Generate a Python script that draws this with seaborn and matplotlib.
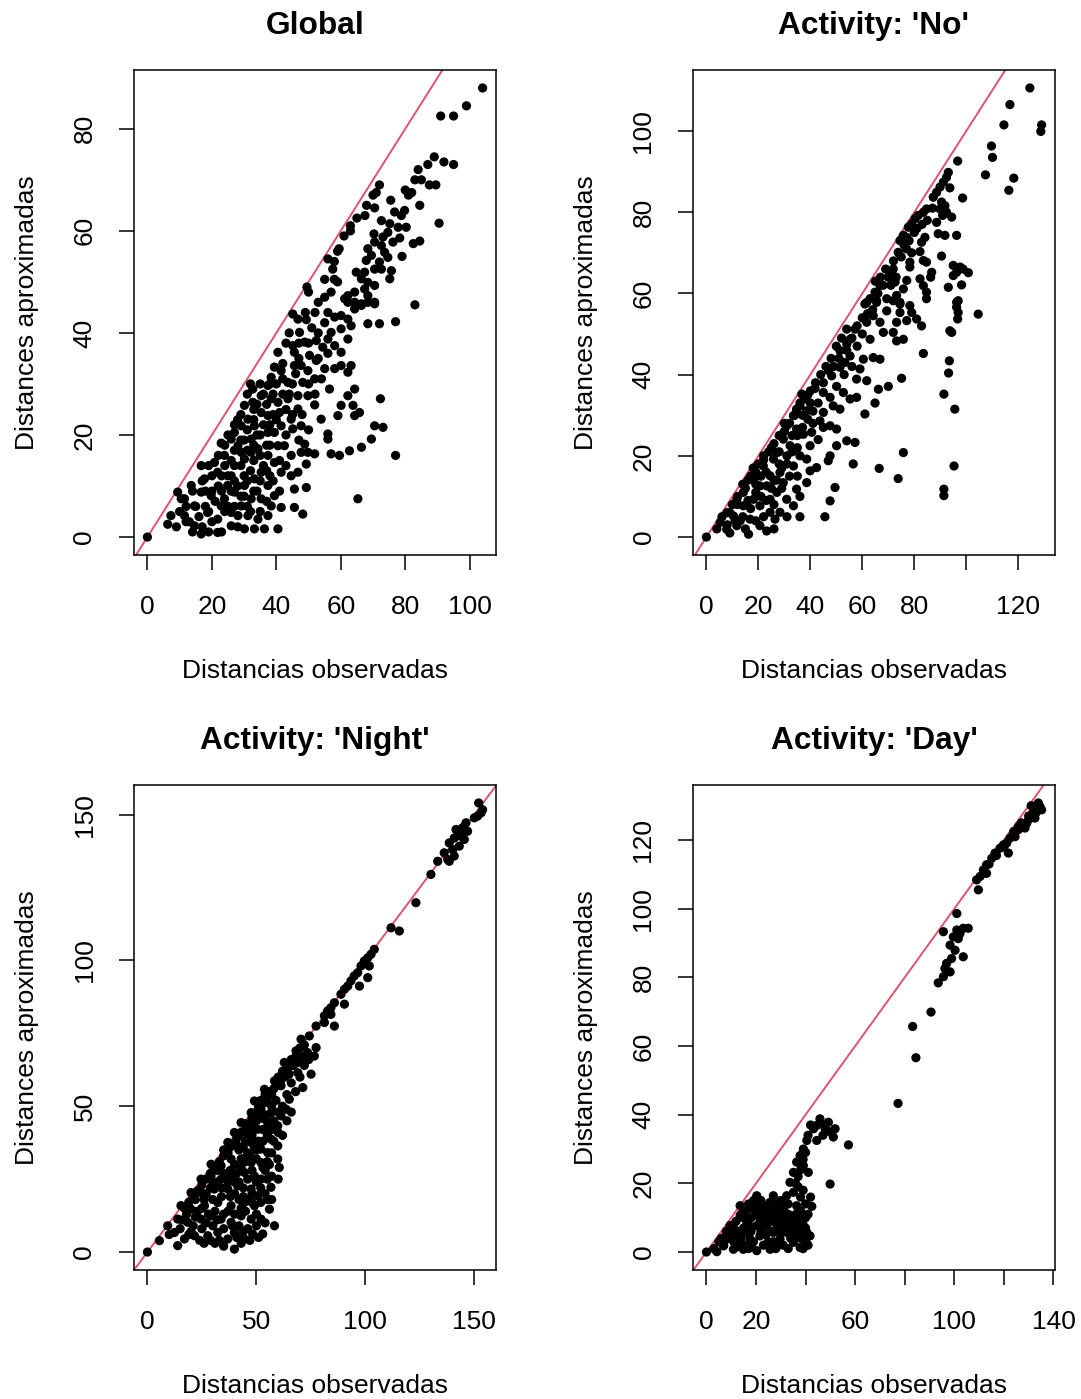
import numpy as np
import pandas as pd
import matplotlib
matplotlib.use("Agg")
import matplotlib.pyplot as plt
import seaborn as sns

# ---------------- data (observed, approximated) ----------------
global_pts = [
    (0, 0),
    (104, 88), (99, 84.5), (91, 82.5), (95, 82.5), (89, 74.5), (92, 73.5), (95, 73), (87, 73), (84, 72),
    (83, 70), (85, 70), (87.5, 69), (89.5, 69), (80, 68), (82, 67.5), (81, 67), (72, 69), (71, 67.5), (70, 67),
    (75.5, 66), (84.5, 65), (68, 65), (70.5, 64.5), (67.5, 63), (65, 62.5), (63, 61), (63, 60), (61, 59),
    (59.5, 56.5), (59, 56), (56, 54.5), (58, 54), (57.5, 52.5), (55, 50.5), (58, 50.5), (49.5, 49), (50, 48),
    (83, 45.5), (90.5, 61.5), (82.5, 57.5), (84.5, 58), (79, 55),
    (72.6, 62), (75.2, 61.4), (76.7, 63.7), (78.8, 63), (79.8, 64), (77.8, 60.7), (80.3, 60.7), (74.6, 59.7),
    (73.1, 58.8), (70.3, 59.4), (78.3, 58.6), (76.2, 57.8), (72.6, 57.1), (70.5, 57.8), (68.4, 56.5),
    (73.6, 55.8), (74.6, 54.8), (72, 53.9), (69.5, 55.2), (67.9, 54.2), (70.5, 52.5), (72.6, 52.5),
    (75.7, 52.2), (75.2, 50.6), (67.4, 51.9), (64.8, 51.9), (66.4, 50.6), (68.4, 49.9), (70.5, 49.3),
    (67.4, 48.6), (64.3, 48), (62.2, 47.3), (61.2, 46.7), (68.4, 47.3), (70.5, 46), (64.3, 46), (66.4, 45.4),
    (62.2, 46), (66.4, 45.7), (68.4, 46), (70.5, 45.7), (64.3, 44.7), (60.1, 43.4), (58.1, 43.1), (62.2, 42.7),
    (63.2, 41.4), (60.1, 40.8), (57, 40.1), (56, 38.8), (62.2, 38.8), (58.1, 37.5), (60.1, 36.2), (63.2, 33.6),
    (60.1, 33.6), (58.1, 33), (62.2, 32.3), (68.4, 41.8), (72, 41.8), (77, 42.2),
    (45.1, 43.7), (46.7, 42.7), (49.3, 42.6), (47.2, 40.1), (48.8, 38.2), (45.1, 37.5), (45.6, 36.2),
    (52.4, 38.5), (54.4, 37.2), (50.3, 35.6), (52.4, 34.6), (47.7, 33.6), (45.6, 33.6), (49.8, 32.6),
    (51.9, 31), (48.2, 30.3), (43.6, 30.3), (40.5, 36.2), (39.4, 33.3), (41.5, 32.6), (38.4, 31.3),
    (37.4, 29.7), (32.7, 29), (35.3, 27.7), (38.4, 27.1), (40.5, 26.4), (43.6, 27.1), (46.7, 27.7),
    (49.8, 27.7), (46.7, 25.1), (51.9, 25.9), (53.9, 23.1), (56.5, 29), (60.1, 25.8), (59.1, 23.8),
    (63.8, 25.8), (64.3, 23.8), (65.8, 24.4), (62.2, 27.7), (64.3, 29), (72.3, 27.1), (70.5, 21.8),
    (73.1, 21.5), (69.5, 19.2), (66.4, 17.6), (62.7, 16.9), (59.6, 16), (57, 16.3), (56, 20.2), (56, 19.2),
    (51.9, 16.3), (49.8, 16.6), (49.3, 14.3), (48.8, 18.2), (44.6, 16), (42.5, 17.9), (40.5, 17.9),
    (39.4, 20.5), (37.4, 20.5), (41.5, 21.8), (45.1, 21.2), (47.7, 21.8), (44.6, 23.1), (41, 24.4),
    (37.4, 23.8), (35.3, 24.4), (32.7, 26.4), (30.1, 25.8), (31.2, 23.1), (29.1, 21.8), (33.2, 21.8),
    (27, 20.5), (26, 19.2), (22.9, 18.4), (28.1, 17.9), (32.2, 19.2), (34.3, 17.3), (37.4, 16), (39.4, 14.6),
    (41.5, 12.7), (44.6, 12), (45.6, 9.4), (49.3, 9.7), (46.7, 12.7), (47.7, 16.6), (77, 16), (65.3, 7.5),
    (45.6, 5.8), (48.2, 4.5), (41.5, 5.8), (40.5, 1.6), (36.3, 1.6), (33.2, 1.6), (30.1, 1.6), (26, 2.2),
    (21.8, 0.9), (16.7, 0.6), (6.3, 2.5), (7.3, 4.2), (11.5, 4.2), (10.5, 7.5), (13.6, 10.1), (17.7, 11.4),
    (20.8, 14.6), (23.9, 16), (21.8, 12.7), (24.9, 12), (27, 14), (30.1, 15.3), (32.2, 16.6), (29.1, 16.6),
    (24.9, 10.1), (27, 8.8), (30.1, 10.1), (33.2, 11.4), (35.3, 12.7), (37.4, 10.1), (39.4, 8.1), (35.3, 7.5),
    (32.2, 7.5), (29.1, 6.1), (26, 4.8), (22.9, 6.1), (19.8, 8.1), (16.7, 8.8), (14.6, 6.1), (18.7, 4.8),
    (21.8, 3.5), (28.1, 4.2), (31.2, 4.2), (34.3, 3.5), (37.4, 4.2), (38.4, 6.1), (14.6, 2.2), (11.5, 7.5),
    (9.4, 8.8), (23.9, 7.5), (16.7, 14),
    (26, 12), (28, 10), (30, 8), (32, 13), (34, 9), (36, 14), (38, 12), (24, 14), (22, 10), (20, 12), (18, 6),
    (16, 4), (12, 6), (14, 9), (20, 3), (24, 5), (28, 2), (32, 5), (35, 5), (30, 12), (33, 15), (27, 17),
    (30, 19), (34, 20), (36, 22), (38, 18), (31, 28), (33, 25), (35, 30), (37, 26), (39, 28), (40, 30),
    (42, 34), (43, 38), (44, 40), (38, 22), (40, 23), (43, 25), (45, 30), (47, 35), (50, 38), (49, 44),
    (52, 44), (55, 47), (57, 48), (59, 50), (53, 40), (55, 42), (50, 30), (53, 35), (55, 33), (56, 36),
    (42, 28), (25, 20), (28, 23), (22, 16), (19, 14), (17, 11), (26, 9), (29, 14), (31, 11),
    (13, 3), (15, 6), (17, 2), (19, 5), (21, 7), (23, 9), (25, 6), (27, 11), (29, 8), (31, 6), (33, 9),
    (35, 11), (37, 7), (39, 11), (41, 9), (43, 14), (41, 15), (37, 13), (35, 16), (33, 18), (31, 17),
    (29, 19), (27, 22), (29, 24), (31, 21), (33, 23), (35, 20), (37, 18), (39, 24), (36, 28), (38, 30),
    (34, 26), (32, 30), (24, 18), (26, 15), (23, 12), (20, 9), (18, 9), (12, 3), (10, 5), (9, 2), (14, 1),
    (19, 1), (23, 1), (27, 6), (43, 20), (45, 24), (47, 19), (44, 28), (46, 32), (42, 31), (48, 24),
    (50, 21), (52, 28), (54, 31), (47, 38), (51, 41), (53, 46), (56, 44),
]

no_pts = [
    (0, 0),
    (124.5, 110.6), (116.8, 106.5), (114.5, 101.5), (129, 101.5), (128.7, 99.9), (109.7, 96.3), (110.1, 93.5),
    (107.4, 89.2), (118.3, 88.4), (116.4, 85.4), (96.7, 92.6), (93.1, 89.8), (92.4, 88.6), (91.2, 87.4),
    (89.9, 86.2), (88.6, 84.9), (87.3, 83.7), (93.7, 86), (98.6, 83.5), (90.5, 82.5), (91.8, 81.6),
    (89.9, 80.8), (92.4, 80), (90.9, 79.2), (94.4, 78.8), (88.6, 77.5), (84.7, 80.8), (83.5, 80), (81.5, 79.2),
    (80.3, 78.4), (79, 77.1), (77.7, 76.3), (89.2, 74.7), (91.8, 74.3), (96.3, 74.3), (75.8, 74.3), (74.5, 73),
    (77.1, 73.8), (84.1, 73.8), (82.8, 72.6), (73.8, 70.1), (82.2, 70.3), (90.5, 69.2), (78.3, 67.7),
    (78.3, 66.5), (83.5, 68.1), (84.7, 67.7), (71.9, 66), (71.3, 64.4), (72.6, 62.8), (77.1, 63.2),
    (75.8, 61.1), (82.2, 63.6), (83.5, 61.9), (84.7, 60.3), (86.7, 65.2), (86.3, 64), (95, 66.9), (97.6, 66.5),
    (96.3, 65.2), (98.8, 66), (100.8, 65.1), (95, 64.4), (98.2, 62.1), (93.1, 61.5), (96.9, 58.2), (96.3, 56.6),
    (66.8, 62), (64.9, 60.3), (63, 58.7), (61, 57.4), (65.5, 57.8), (69.4, 58.7), (73.2, 59.5), (74.5, 57.8),
    (78.3, 57), (84.7, 58.7),
    (61.7, 57.8), (65.5, 58.2), (71.9, 58.2), (74.5, 57.4), (69.4, 55.7), (74.5, 55.3), (79, 55.3),
    (64.2, 54.5), (61.7, 52.9), (66.8, 52.9), (73.2, 52.9), (77.1, 53.3), (80.9, 53.7), (82.8, 52),
    (68.1, 50.4), (63, 48.7), (73.2, 48.3), (75.8, 48.7), (71.9, 50.4), (96.3, 57.8), (96.9, 55.3),
    (96.7, 53.7), (104.6, 54.9), (94.4, 50.4), (93.7, 50.8), (54, 51.2), (57.2, 51.2), (55.3, 48.7),
    (54, 47.5), (51.4, 45.9), (55.3, 44.6), (53.3, 43), (51.4, 41.8), (60.4, 43.8), (59.1, 41.4),
    (64.2, 44.2), (66.8, 43.8), (57.8, 38.9), (61.7, 38.5), (66.2, 36.4), (70, 37.1), (75.1, 39.1),
    (83.5, 45.2), (93.5, 43.4), (93.2, 40.4), (91.4, 35.2), (95.6, 31.5), (48.2, 39.7), (41.8, 36.6),
    (36.7, 35.2), (45, 35.6), (47.6, 34.4), (50.1, 37.1), (52.7, 35.6), (55.3, 34), (57.8, 34.4),
    (48.8, 32.3), (51.4, 31.5), (45, 30.7), (43.7, 28.6), (47.6, 27.4), (50.1, 26.6), (34.7, 31.5),
    (36, 32.3), (38.6, 31.1), (33.5, 29.9), (61, 30.3), (64.9, 33), (54, 23.7), (57.2, 23.3), (50.1, 22.5),
    (47.6, 20), (46.9, 18.8), (42.4, 17.1), (56.5, 18), (66.5, 16.9), (73.8, 14.4), (75.8, 20.8),
    (95.3, 17.5), (91.4, 11.8), (91.4, 10.2), (49.5, 12.2), (47.6, 8.9), (45.6, 5), (36, 5),
    (30.9, 27.4), (34.7, 26.6), (37.3, 25.3), (40.5, 25.8), (39.9, 22.5), (29.6, 24.1), (32.2, 22.5),
    (27.1, 20.8), (36, 20), (38.6, 19.2), (33.5, 17.5), (39.9, 16.3), (38.6, 13.4), (34.7, 11.8),
    (30.9, 9.3), (33.5, 7.7), (28.3, 6.1), (26.4, 4.4), (23.2, 1.5), (16.2, 0.7), (7.8, 1.9), (5.3, 3.6),
    (10.4, 5.2), (14.2, 7.7), (18.1, 9.3), (20.6, 12.6), (24.5, 15.1), (28.3, 15.9), (25.8, 19.2),
    (21.9, 17.5), (18.1, 14.3), (14.2, 11), (11.7, 9.3), (20.6, 7.7), (24.5, 9.3), (27.1, 11), (29.6, 13.4),
    (23.2, 12.6), (16.8, 4.4), (20.6, 2.8), (11.7, 2.8), (24.5, 6.1),
    (12, 8), (15, 12), (17, 15), (19, 11), (22, 20), (25, 22), (28, 25), (30, 28), (31, 20), (33, 25),
    (35, 22), (37, 30), (40, 33), (42, 38), (44, 40), (46, 42), (48, 44), (50, 47), (52, 49), (13, 4),
    (9, 6), (8, 3), (22, 5), (26, 8), (29, 12), (32, 15), (35, 15), (36, 10), (26, 14), (23, 16), (19, 16),
    (16, 9), (21, 10), (31, 5), (28, 18), (41, 28), (43, 24), (45, 27), (39, 35), (53, 40), (56, 42),
    (58, 47), (60, 50), (62, 55), (64, 56), (66, 60), (68, 62), (70, 64), (72, 68), (74, 70), (76, 72),
    (78, 73), (80, 75),
    (4, 2), (6, 5), (8, 6), (10, 8), (12, 10), (14, 13), (16, 14), (18, 17), (20, 18), (22, 19), (24, 21),
    (26, 23), (28, 21), (30, 26), (32, 28), (34, 30), (36, 33), (38, 34), (40, 36), (14, 5), (17, 7),
    (19, 13), (21, 15), (23, 9), (25, 12), (27, 14), (29, 17), (31, 18), (33, 21), (35, 25), (37, 27),
    (39, 29), (41, 31), (43, 33), (45, 38), (47, 41), (49, 42), (51, 44), (54, 46), (56, 49), (58, 52),
    (60, 54), (63, 55), (65, 63), (67, 64), (69, 66), (71, 62), (73, 64), (75, 69), (77, 71), (79, 70),
    (81, 76), (83, 77), (85, 78), (87, 81), (11, 4), (9, 1), (15, 2), (19, 4), (26, 2),
]

night_pts = [
    (152, 154), (153.8, 151.7), (151.5, 149.5), (150, 148.9), (153.1, 150.6), (146.2, 147.2), (144.6, 145.5),
    (141.6, 144.9), (146.9, 144.3), (143.9, 142.6), (140.8, 142), (145.4, 141.5), (138.5, 140.3),
    (143.1, 139.2), (140.1, 138), (136.2, 136.9), (140.8, 135.8), (137.8, 134.6), (133.2, 134), (138.5, 134),
    (130.1, 129.5), (123.2, 119.8), (111.8, 111.2), (115.6, 110.1),
    (104.1, 103.8), (102.6, 102.1), (101.1, 100.9), (99.5, 99.8), (101.8, 98.1), (98, 98.1), (96.5, 95.8),
    (101.1, 94.1), (94.9, 94.7), (93.4, 93), (91.9, 91.2), (97.3, 91.2), (90.4, 90.1), (88.8, 88.4),
    (90.4, 85), (85.8, 85.5), (84.2, 83.8), (82.7, 82.7), (81.2, 81), (84.2, 81.5),
    (77.4, 77.5), (81.2, 78.7), (85.8, 77.5), (74.3, 74.1), (70.5, 73), (77.4, 70.1), (73.5, 68.4),
    (68.2, 69), (76.6, 67.2), (62.8, 65), (65.9, 63.8), (69, 61.5), (75.1, 61), (71.3, 56.4), (58.3, 58.7),
    (61.3, 57), (65.1, 52.4), (63.6, 49), (61.3, 46.7), (59.8, 43.3), (56.7, 38.7), (59.8, 36.4),
    (59.8, 31.9), (60.5, 29), (56.7, 22.2), (56, 14.7), (58.3, 9), (52.9, 6.2), (48.3, 6.2), (44.5, 4.5),
    (39.9, 1), (53.7, 55.8), (49.1, 51.8), (52.1, 49), (55.2, 51.3), (56.7, 47.8), (47.6, 47.8), (53.7, 45.6),
    (43, 44.4), (39.9, 41), (46, 41), (50.6, 42.1), (55.2, 43.3), (36.9, 37.6), (41.4, 36.4), (47.6, 37.6),
    (52.1, 35.3), (55.2, 34.1), (29.2, 30.1), (33.8, 29.6), (38.4, 31.9), (43, 31.9), (47.6, 30.7),
    (52.1, 30.7), (24.6, 25), (29.2, 26.1), (33.8, 25), (39.9, 26.1), (44.5, 27.3), (49.1, 26.1), (52.1, 25),
    (20, 20.4), (24.6, 20.4), (30.7, 21.6), (36.9, 21.6), (41.4, 22.7), (47.6, 21.6), (50.6, 19.3),
    (15.4, 15.9), (20, 14.7), (26.2, 15.9), (32.3, 17), (38.4, 15.9), (44.5, 17), (49.1, 15.9), (52.1, 11.3),
    (47.6, 11.3), (43, 12.4), (38.4, 10.2), (33.8, 11.3), (29.2, 12.4), (24.6, 11.3), (18.5, 10.2),
    (13.9, 11.3), (9.3, 9), (12.4, 6.7), (17, 4.5), (21.6, 5.6), (27.7, 5.6), (32.3, 6.7), (36.9, 4.5),
    (39.9, 6.7), (13.9, 2.2), (5.5, 3.9), (0, 0),
    (35, 35), (38, 36), (42, 40), (45, 44), (48, 46), (50, 48), (52, 52), (54, 54), (56, 55), (58, 56),
    (60, 60), (62, 62), (64, 63), (66, 66), (68, 67), (70, 70), (72, 71), (45, 38), (48, 40), (50, 35),
    (53, 38), (55, 40), (57, 42), (58, 45), (60, 48), (62, 50), (64, 54), (66, 58), (40, 30), (42, 35),
    (44, 32), (46, 34), (48, 28), (50, 32), (54, 28), (56, 30), (30, 24), (32, 28), (35, 27), (37, 24),
    (40, 24), (44, 22), (46, 25), (54, 20), (57, 26), (27, 20), (30, 18), (34, 19), (38, 19), (42, 18),
    (46, 18), (22, 18), (25, 15), (28, 13), (31, 14), (35, 13), (40, 13), (45, 14), (50, 13), (18, 13),
    (22, 12), (30, 9), (35, 8), (42, 9), (46, 8), (50, 9), (25, 8), (20, 7), (15, 8), (10, 6), (26, 3),
    (31, 3), (35, 2), (44, 7), (52, 17), (57, 18), (60, 25), (62, 40), (64, 45), (66, 48), (68, 55),
    (70, 60), (72, 64), (74, 66),
    (17, 15), (19, 17), (21, 19), (23, 21), (25, 23), (27, 25), (29, 27), (31, 29), (33, 31), (35, 33),
    (37, 34), (39, 37), (41, 39), (43, 41), (45, 42), (47, 44), (49, 46), (51, 50), (53, 51), (55, 53),
    (57, 54), (59, 57), (61, 58), (63, 60), (65, 61), (67, 64), (69, 65), (71, 67), (23, 14), (26, 18),
    (29, 22), (32, 24), (34, 22), (36, 26), (38, 28), (41, 27), (43, 29), (45, 31), (47, 33), (49, 36),
    (51, 38), (53, 42), (55, 45), (57, 50), (59, 52), (44, 36), (46, 39), (48, 43), (50, 45), (52, 46),
    (54, 47), (40, 20), (42, 24), (44, 19), (48, 20), (50, 24), (52, 22), (55, 25), (53, 29), (55, 31),
    (57, 34), (58, 38), (60, 41), (39, 9), (41, 5), (43, 3), (47, 4), (51, 5), (54, 10), (55, 18), (33, 4),
    (29, 4), (24, 4), (19, 6), (16, 11), (21, 9), (27, 10), (32, 11), (37, 14), (43, 15), (48, 17),
]

day_pts = [
    (133.9, 130.8), (135.2, 128.8), (131.9, 128.3), (134.5, 129.8), (132.5, 126.4), (129.2, 124.9),
    (127.8, 124), (125.8, 123), (128.5, 123.5), (123.8, 122), (124.5, 121), (122.4, 120.5), (121.1, 119.1),
    (119.8, 118.6), (118.4, 117.6), (121.8, 116.2), (116.4, 116.2), (115.1, 114.7), (113, 112.8),
    (111.7, 111.3), (113, 110.3), (110.4, 109.4), (109, 108.4), (109.7, 105.5), (101, 98.6), (95.6, 93.3),
    (101, 93.8), (102.3, 92.8), (103.6, 94.3), (105.6, 94.3), (99.6, 91.8), (101.6, 91.3), (98.3, 89.4),
    (100.3, 87.9), (103.6, 86), (98.9, 85.5), (96.9, 84.1), (96.2, 82.6), (98.3, 81.6), (95.6, 80.2),
    (93.5, 78.4), (90.6, 69.9), (83.2, 65.7), (84.5, 56.6), (77.3, 43.3),
    (126, 124), (130, 127), (117, 115.5), (120, 118), (124, 122.5), (127, 125), (114, 113), (112, 110.5),
    (130, 126), (133, 128), (131, 130),
    (45.8, 38.8), (49.2, 37.8), (44.5, 36.9), (43.2, 35.9), (51.9, 35.9), (47.9, 35.9), (51.2, 33.5),
    (44.5, 32.5), (57.3, 31.2), (40.5, 32.5), (39.1, 30), (37.8, 28.1), (36.4, 26.2), (39.1, 25.2),
    (41.1, 23.2), (35.1, 23.2), (33.7, 20.3), (49.9, 19.8), (35.1, 17.4), (32.4, 16.4), (29.7, 13.5),
    (42.5, 13.3), (27, 16.4), (20.3, 16.4), (13.6, 13.5), (36.4, 13.5), (37.8, 10.6), (33.7, 8.6),
    (40.5, 5.7), (41.8, 4.7), (37.8, 1.3), (35.1, 2.8), (29.7, 3.8), (25.7, 0.8), (20.3, 0.4), (14.9, 0.8),
    (10.9, 0.8), (4.2, 0.1), (0, 0), (8.2, 3.8), (12.2, 5.7), (16.3, 8.6), (21.6, 9.6), (25.7, 11.6),
    (29.7, 9.6), (32.4, 5.7), (27, 5.7), (21.6, 4.7), (17.6, 3.8), (13.6, 2.8), (6.9, 1.8), (9.5, 7.7),
    (13.6, 10.6), (19, 12.5), (23, 13.5), (25.7, 14.5), (31.1, 12.5), (35.1, 10.6), (28.4, 7.7), (24.3, 7.7),
    (20.3, 7.7), (16.3, 5.7), (10.9, 3.8),
    (5, 3), (8, 6), (11, 8), (14, 11), (17, 14), (20, 14), (23, 11), (26, 12), (28, 14), (30, 15), (33, 14),
    (37, 7), (39, 8), (40, 3), (38, 4), (31, 2), (27, 3), (23, 2), (18, 2), (12, 1.5), (24, 5), (29, 6),
    (34, 4), (36, 6), (18, 10), (15, 7), (22, 12), (31, 8), (26, 9), (38, 12), (40, 10), (40, 14), (38, 16),
    (36, 20), (37, 22), (38, 24), (39, 27), (40, 29), (41, 34), (42, 37), (48, 37), (50, 35), (47, 34),
    (3, 1), (6, 4), (7, 2), (9, 5), (10, 7), (11, 3), (12, 9), (13, 6), (14, 4), (15, 10), (16, 12), (17, 8),
    (18, 6), (19, 3), (20, 11), (21, 13), (22, 6), (23, 8), (24, 10), (25, 3), (26, 6), (27, 10), (28, 12),
    (29, 2), (30, 11), (31, 6), (32, 9), (33, 11), (34, 7), (35, 5), (36, 9), (37, 12), (38, 8), (39, 5),
    (40, 7), (41, 11), (41, 2), (39, 1), (33, 1), (28, 1), (17, 1), (22, 15), (24, 13), (19, 15), (16, 2),
    (42, 16), (39, 18), (37, 19),
]

titles = ["Global", "Activity: 'No'", "Activity: 'Night'", "Activity: 'Day'"]
xticks = [[0, 20, 40, 60, 80, 100], [0, 20, 40, 60, 80, 100, 120],
          [0, 50, 100, 150], [0, 20, 40, 60, 80, 100, 120, 140]]
xticklabels = [["0", "20", "40", "60", "80", "100"], ["0", "20", "40", "60", "80", "", "120"],
               ["0", "50", "100", "150"], ["0", "20", "", "60", "", "100", "", "140"]]
yticks = [[0, 20, 40, 60, 80], [0, 20, 40, 60, 80, 100], [0, 50, 100, 150],
          [0, 20, 40, 60, 80, 100, 120]]
xlabel = "Distancias observadas"
ylabel = "Distances aproximadas"

# ---------------- style ----------------
sns.set_theme(style="white")
plt.rcParams["font.family"] = ["Liberation Sans", "DejaVu Sans"]
plt.rcParams["axes.edgecolor"] = "black"
plt.rcParams["axes.linewidth"] = 1.1
plt.rcParams["text.color"] = "black"
plt.rcParams["axes.labelcolor"] = "black"
plt.rcParams["axes.titlecolor"] = "black"
plt.rcParams["xtick.color"] = "black"
plt.rcParams["ytick.color"] = "black"

W, H = 1081, 1399
fig = plt.figure(figsize=(W / 100, H / 100), dpi=100)
fig.patch.set_facecolor("white")

boxes = [(134, 70), (693, 70), (134, 785), (693, 785)]
bw, bh = 362, 485
datasets = [global_pts, no_pts, night_pts, day_pts]

for i, (pts, (bx, by)) in enumerate(zip(datasets, boxes)):
    ax = fig.add_axes([bx / W, 1 - (by + bh) / H, bw / W, bh / H])
    df = pd.DataFrame(pts, columns=["obs", "aprox"])
    sns.scatterplot(data=df, x="obs", y="aprox", ax=ax, color="black", s=44,
                    linewidth=0, edgecolor="none", zorder=3)
    xmin, xmax = df["obs"].min(), df["obs"].max()
    ymin, ymax = df["aprox"].min(), df["aprox"].max()
    dx, dy = (xmax - xmin) * 0.04, (ymax - ymin) * 0.04
    ax.set_xlim(xmin - dx, xmax + dx)
    ax.set_ylim(ymin - dy, ymax + dy)
    ax.axline((0, 0), slope=1, color="#DF536B", lw=1.4, zorder=2)
    ax.set_xticks(xticks[i])
    ax.set_xticklabels(xticklabels[i])
    ax.set_yticks(yticks[i])
    ax.set_yticklabels([str(v) for v in yticks[i]], rotation=90, va="center")
    ax.tick_params(axis="both", which="major", direction="out", length=11, width=1.1,
                   labelsize=19, colors="black", bottom=True, left=True)
    ax.tick_params(axis="x", pad=18)
    ax.tick_params(axis="y", pad=16)
    for sp in ax.spines.values():
        sp.set_visible(True)
        sp.set_color("black")
    ax.set_title(titles[i], fontsize=22.8, fontweight="bold", pad=26, color="black")
    ax.set_xlabel(xlabel, fontsize=19)
    ax.set_ylabel(ylabel, fontsize=19)
    ax.xaxis.set_label_coords(0.5, -0.215)
    ax.yaxis.set_label_coords(-0.262, 0.5)

fig.savefig("out.png", dpi=100, facecolor="white")
